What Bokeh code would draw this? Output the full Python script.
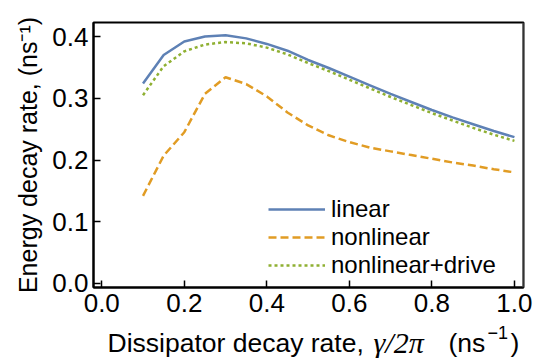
from bokeh.plotting import figure
from bokeh.layouts import column
from bokeh.models import Range1d, Label, Span, Legend, LegendItem, FixedTicker
from bokeh.embed import file_html
from bokeh.resources import INLINE

gamma = [0.1, 0.15, 0.2, 0.25, 0.3, 0.35, 0.4, 0.45, 0.5, 0.55, 0.6, 0.65, 0.7, 0.75, 0.8, 0.85, 0.9, 0.95, 1.0]
linear = [0.324, 0.370, 0.392, 0.400, 0.402, 0.397, 0.388, 0.377, 0.362, 0.349, 0.335, 0.321, 0.307, 0.294, 0.281, 0.269, 0.258, 0.247, 0.237]
nonlinear = [0.142, 0.207, 0.245, 0.307, 0.334, 0.323, 0.303, 0.277, 0.256, 0.240, 0.229, 0.220, 0.214, 0.208, 0.202, 0.196, 0.191, 0.185, 0.180]
nonlinear_drive = [0.305, 0.352, 0.376, 0.387, 0.391, 0.389, 0.382, 0.371, 0.357, 0.344, 0.330, 0.316, 0.302, 0.289, 0.276, 0.264, 0.252, 0.241, 0.231]
x_ticks = [0.0, 0.2, 0.4, 0.6, 0.8, 1.0]
y_ticks = [0.0, 0.1, 0.2, 0.3, 0.4]
x_label_parts = ["Dissipator decay rate,", "γ/2π", "(ns", "−1", ")"]

FONT = "Liberation Sans"
SERIF = "Liberation Serif"
LEFT, RIGHT = 93, 18

p = figure(width=541, height=322, output_backend="svg", toolbar_location=None,
           x_range=Range1d(-0.02, 1.022), y_range=Range1d(-0.0065, 0.4227),
           min_border_left=LEFT, min_border_right=RIGHT, min_border_top=22, min_border_bottom=35)
p.grid.visible = False
p.background_fill_color = "white"
p.border_fill_color = "white"
p.outline_line_color = "black"
p.outline_line_width = 2

for ax in (p.xaxis[0], p.yaxis[0]):
    ax.axis_line_width = 2
    ax.axis_line_color = "black"
    ax.major_tick_in = 7
    ax.major_tick_out = 0
    ax.major_tick_line_width = 1.5
    ax.minor_tick_line_color = None
    ax.major_label_text_font = FONT
    ax.major_label_text_font_size = "26px"
    ax.major_label_text_color = "black"

p.xaxis.ticker = FixedTicker(ticks=x_ticks)
p.yaxis.ticker = FixedTicker(ticks=y_ticks)
p.xaxis.major_label_overrides = {t: f"{t:.1f}" for t in x_ticks}
p.yaxis.major_label_overrides = {t: f"{t:.1f}" for t in y_ticks}
p.xaxis.major_label_standoff = 6
p.yaxis.major_label_standoff = 5

p.yaxis.axis_label = "Energy decay rate, (ns⁻¹)"
p.yaxis.axis_label_text_font = FONT
p.yaxis.axis_label_text_font_size = "25px"
p.yaxis.axis_label_text_font_style = "normal"
p.yaxis.axis_label_text_color = "black"
p.yaxis.axis_label_standoff = 7

r1 = p.line(gamma, linear, line_color="#5E81B5", line_width=2.5)
r2 = p.line(gamma, nonlinear, line_color="#E19C24", line_width=2.5, line_dash="8 4")
r3 = p.line(gamma, nonlinear_drive, line_color="#8FB032", line_width=2.5, line_dash="3 3")

legend = Legend(items=[LegendItem(label="linear", renderers=[r1]),
                       LegendItem(label="nonlinear", renderers=[r2]),
                       LegendItem(label="nonlinear+drive", renderers=[r3])],
                location=(175, 8), border_line_color=None, background_fill_alpha=0,
                padding=0, spacing=0, margin=0, glyph_width=57, glyph_height=22,
                label_height=22, label_standoff=6,
                label_text_font=FONT, label_text_font_size="24px", label_text_color="black")
p.add_layout(legend)

p.add_layout(Span(location=1.022, dimension="height", line_color="#666666", line_width=2))

# x-axis label strip (mixed fonts), frame aligned with the main plot's frame
q = figure(width=541, height=36, output_backend="svg", toolbar_location=None,
           x_axis_type=None, y_axis_type=None,
           min_border_left=LEFT, min_border_right=RIGHT, min_border_top=0, min_border_bottom=0,
           x_range=Range1d(0, 430), y_range=Range1d(0, 36))
q.grid.visible = False
q.outline_line_color = None
q.background_fill_color = "white"
q.border_fill_color = "white"

BASE = 16
specs = [  # x, y offset, font, style, size
    (107, 0, FONT, "normal", "26.5px"),
    (373, 0, SERIF, "italic", "30px"),
    (448, 0, FONT, "normal", "26.5px"),
    (487, 10, FONT, "normal", "18px"),
    (510, 0, FONT, "normal", "26.5px"),
]
for txt, (xx, dy, fnt, style, size) in zip(x_label_parts, specs):
    q.add_layout(Label(x=xx - LEFT, y=BASE + dy, x_units="screen", y_units="screen", text=txt,
                       text_font=fnt, text_font_size=size, text_font_style=style,
                       text_color="black", text_baseline="alphabetic"))

layout = column(p, q, spacing=0)
open("out.html", "w").write(file_html(layout, INLINE))
